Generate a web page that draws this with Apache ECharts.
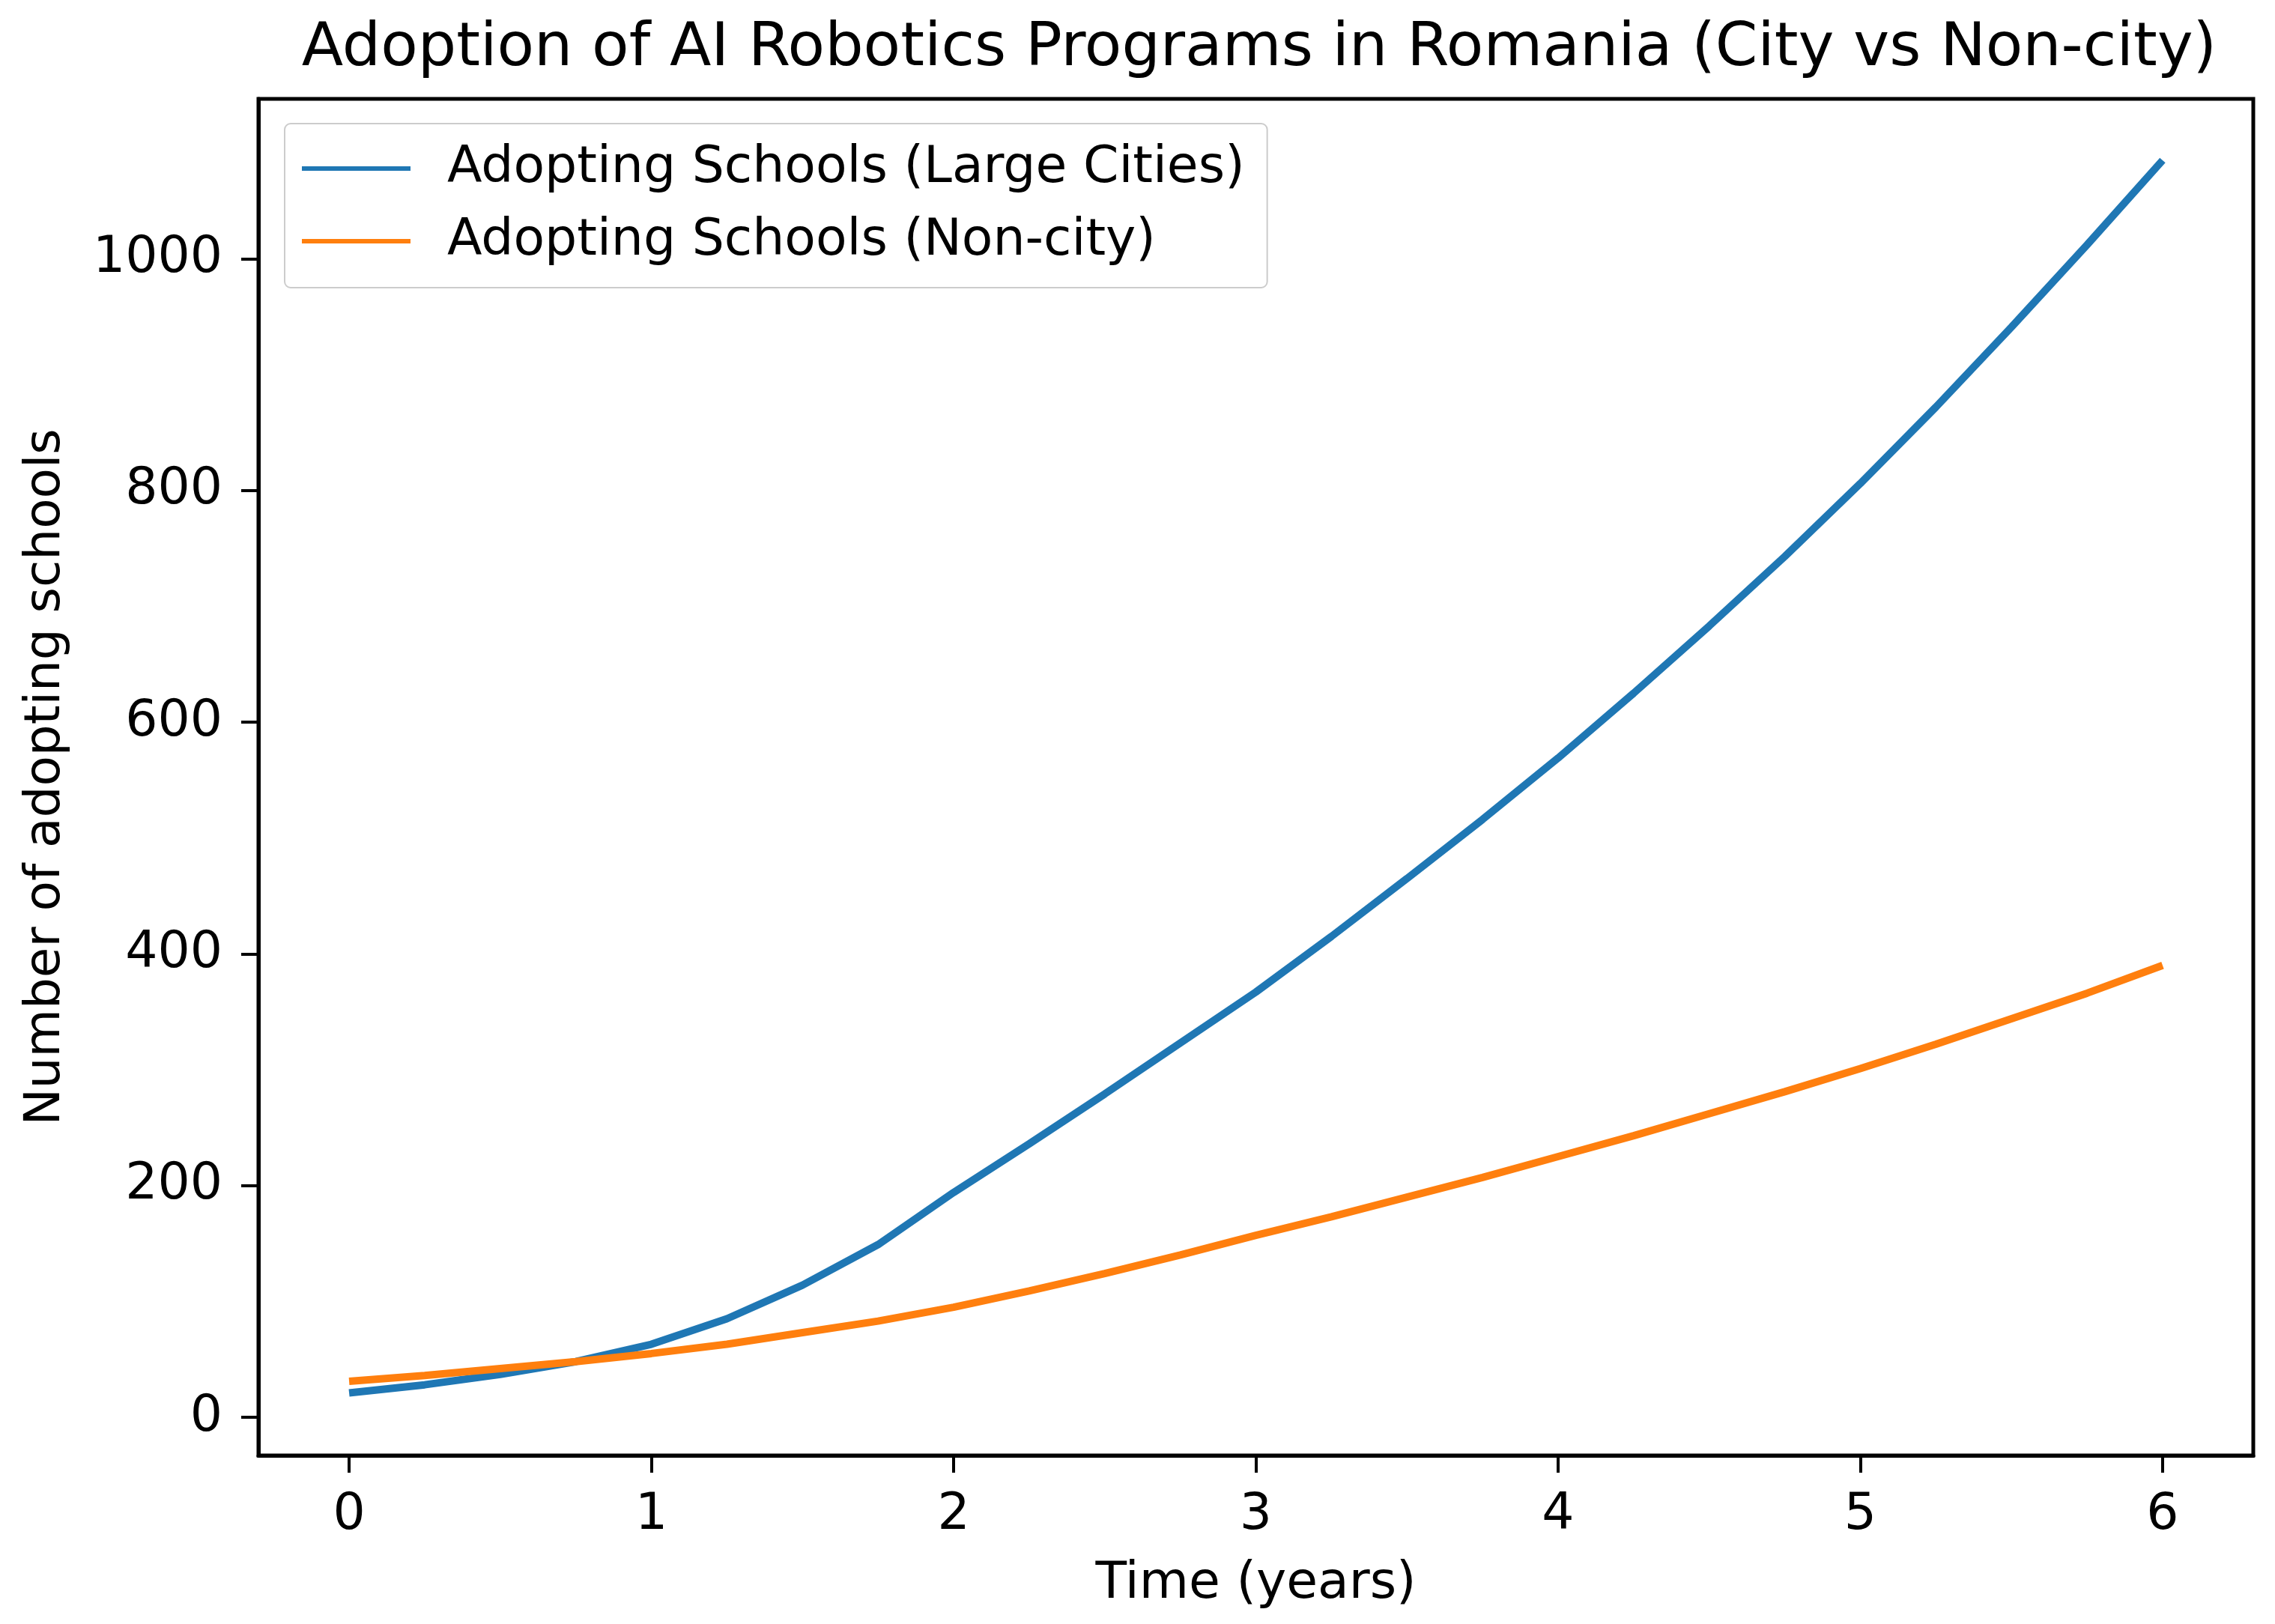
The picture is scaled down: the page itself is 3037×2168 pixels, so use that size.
<!DOCTYPE html>
<html>
<head>
<meta charset="utf-8">
<title>Adoption of AI Robotics Programs in Romania</title>
<script src="https://cdn.jsdelivr.net/npm/echarts@6/dist/echarts.min.js"></script>
<style>
  * { margin: 0; padding: 0; }
  html, body { width: 3037px; height: 2168px; background: #fff; }
  #main { width: 3037px; height: 2168px; }
</style>
</head>
<body>
<div id="main"></div>
<script>
// time axis, quarterly points (years)
var years = [0, 0.25, 0.5, 0.75, 1, 1.25, 1.5, 1.75, 2, 2.25, 2.5, 2.75, 3,
             3.25, 3.5, 3.75, 4, 4.25, 4.5, 4.75, 5, 5.25, 5.5, 5.75, 6];
// adopting schools
var cityValues = [21, 28, 37, 48, 63, 85, 114, 149, 194, 236, 279, 323, 367,
                  415, 465, 516, 569, 625, 683, 743, 806, 872, 941, 1012, 1085];
var nonCityValues = [31, 36, 42, 48, 55, 63, 73, 83, 95, 109, 124, 140, 157,
                     173, 190, 207, 225, 243, 262, 281, 301, 322, 344, 366, 390];
var xTicks = [0, 1, 2, 3, 4, 5, 6];
var yTicks = [0, 200, 400, 600, 800, 1000];
var seriesNames = ['Adopting Schools (Large Cities)', 'Adopting Schools (Non-city)'];

function pairs(xs, ys) {
  return xs.map(function (x, i) { return [x, ys[i]]; });
}

var FONT = 'DejaVu Sans';
var chart = echarts.init(document.getElementById('main'));

chart.setOption({
  animation: false,
  backgroundColor: '#fff',
  title: {
    text: 'Adoption of AI Robotics Programs in Romania (City vs Non-city)',
    left: 1676,
    textAlign: 'center',
    top: 20,
    textStyle: { fontFamily: FONT, fontSize: 81, fontWeight: 'normal', color: '#000' }
  },
  legend: {
    orient: 'vertical',
    left: 380,
    top: 165,
    padding: [26, 30, 28, 23],
    itemGap: 29,
    itemWidth: 145,
    itemHeight: 6,
    icon: 'rect',
    backgroundColor: 'rgba(255,255,255,0.8)',
    borderColor: '#cccccc',
    borderWidth: 2,
    borderRadius: 8,
    textStyle: {
      fontFamily: FONT, fontSize: 68, color: '#000',
      lineHeight: 68, padding: [0, 0, 0, 44]
    },
    data: seriesNames
  },
  grid: {
    left: 345, top: 132, right: 29, bottom: 225,
    outerBoundsMode: 'none',
    containLabel: false,
    show: true,
    borderColor: '#000',
    borderWidth: 5
  },
  xAxis: {
    type: 'value',
    min: -0.3,
    max: 6.3,
    name: 'Time (years)',
    nameLocation: 'middle',
    nameGap: 138,
    nameTextStyle: { fontFamily: FONT, fontSize: 68, color: '#000' },
    splitLine: { show: false },
    axisLine: { show: true, onZero: false, lineStyle: { color: '#000', width: 5 } },
    axisTick: { show: true, length: 23, lineStyle: { color: '#000', width: 4 }, customValues: xTicks },
    axisLabel: {
      fontFamily: FONT, fontSize: 68, color: '#000', margin: 46,
      customValues: xTicks,
      formatter: function (v) { return String(v); }
    }
  },
  yAxis: {
    type: 'value',
    min: -33,
    max: 1138,
    name: 'Number of adopting schools',
    nameLocation: 'middle',
    nameGap: 250,
    nameTextStyle: { fontFamily: FONT, fontSize: 66, color: '#000' },
    splitLine: { show: false },
    axisLine: { show: true, onZero: false, lineStyle: { color: '#000', width: 5 } },
    axisTick: { show: true, length: 23, lineStyle: { color: '#000', width: 4 }, customValues: yTicks },
    axisLabel: {
      fontFamily: FONT, fontSize: 68, color: '#000', margin: 48,
      customValues: yTicks,
      formatter: function (v) { return String(v); }
    }
  },
  series: [
    {
      name: seriesNames[0],
      type: 'line',
      data: pairs(years, cityValues),
      showSymbol: false,
      color: '#1f77b4',
      lineStyle: { color: '#1f77b4', width: 10 }
    },
    {
      name: seriesNames[1],
      type: 'line',
      data: pairs(years, nonCityValues),
      showSymbol: false,
      color: '#ff7f0e',
      lineStyle: { color: '#ff7f0e', width: 10 }
    }
  ]
});
</script>
</body>
</html>
